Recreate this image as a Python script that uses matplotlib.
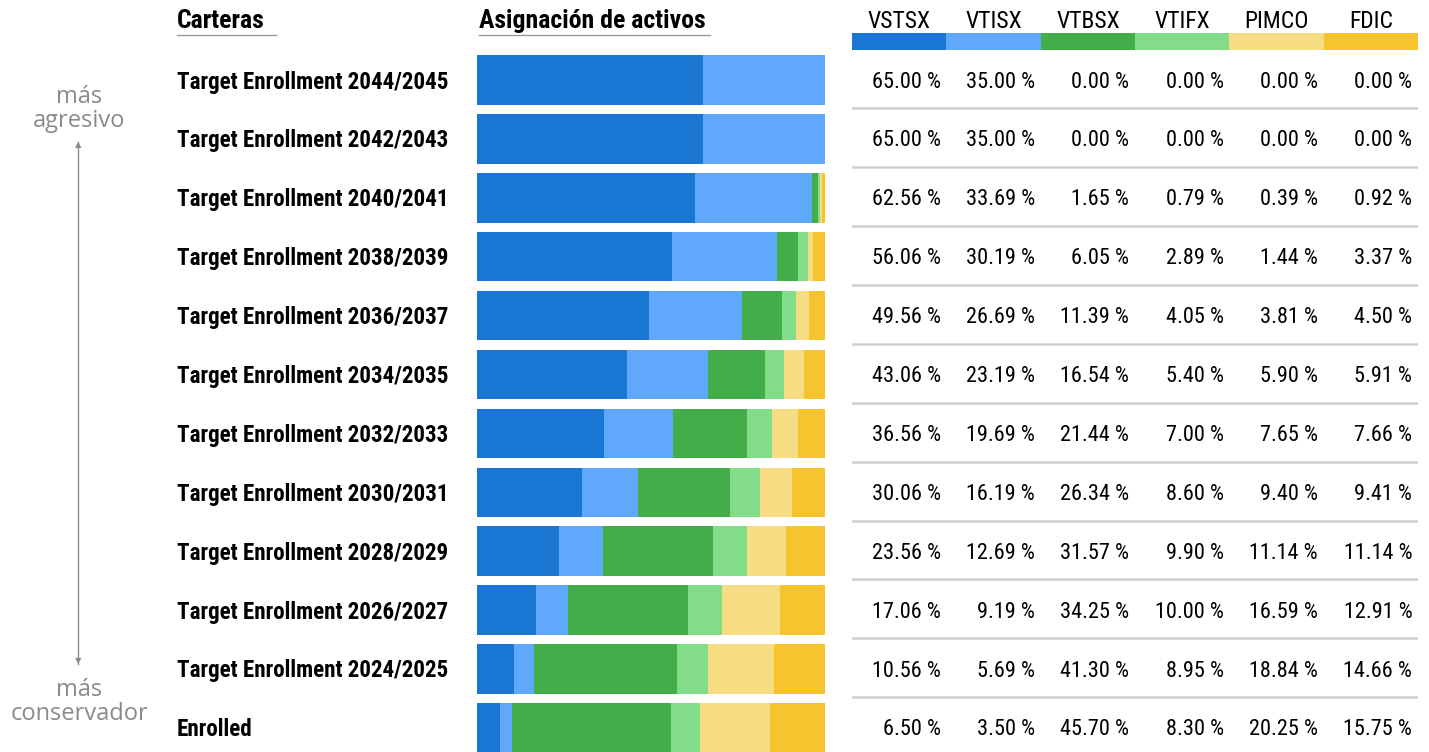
import matplotlib.pyplot as plt
from matplotlib import font_manager
import numpy as np

portfolios = ['Target Enrollment 2044/2045', 'Target Enrollment 2042/2043',
              'Target Enrollment 2040/2041', 'Target Enrollment 2038/2039',
              'Target Enrollment 2036/2037', 'Target Enrollment 2034/2035',
              'Target Enrollment 2032/2033', 'Target Enrollment 2030/2031',
              'Target Enrollment 2028/2029', 'Target Enrollment 2026/2027',
              'Target Enrollment 2024/2025', 'Enrolled']
funds = ['VSTSX', 'VTISX', 'VTBSX', 'VTIFX', 'PIMCO', 'FDIC']
vstsx = [65.00, 65.00, 62.56, 56.06, 49.56, 43.06, 36.56, 30.06, 23.56, 17.06, 10.56, 6.50]
vtisx = [35.00, 35.00, 33.69, 30.19, 26.69, 23.19, 19.69, 16.19, 12.69, 9.19, 5.69, 3.50]
vtbsx = [0.00, 0.00, 1.65, 6.05, 11.39, 16.54, 21.44, 26.34, 31.57, 34.25, 41.30, 45.70]
vtifx = [0.00, 0.00, 0.79, 2.89, 4.05, 5.40, 7.00, 8.60, 9.90, 10.00, 8.95, 8.30]
pimco = [0.00, 0.00, 0.39, 1.44, 3.81, 5.90, 7.65, 9.40, 11.14, 16.59, 18.84, 20.25]
fdic = [0.00, 0.00, 0.92, 3.37, 4.50, 5.91, 7.66, 9.41, 11.14, 12.91, 14.66, 15.75]
colors = ['#1976d2', '#60a8fc', '#43ad4a', '#82dc88', '#f6dc83', '#f6c42e']

W, H = 1429, 752

# pick a narrow sans similar to Arial Narrow
installed = {f.name for f in font_manager.fontManager.ttflist}
narrow = next((n for n in ['Liberation Sans Narrow', 'Arial Narrow', 'Roboto Condensed',
                           'PT Sans Narrow', 'Archivo Narrow', 'Pragati Narrow']
               if n in installed), 'DejaVu Sans')
plt.rcParams['font.family'] = [narrow, 'DejaVu Sans']

fig = plt.figure(figsize=(W / 100, H / 100), dpi=100)

# row i sits at pixel y = 80 + 58.9 * i
row_px = 58.9
y_top = -80 / row_px
y_bot = (H - 80) / row_px
txt_dy = 0.035  # nudge text down a couple of pixels


def px_axes(x0, x1):
    return fig.add_axes([x0 / W, 0, (x1 - x0) / W, 1])


data = np.array([vstsx, vtisx, vtbsx, vtifx, pimco, fdic])
rows = np.arange(len(portfolios))

# stacked bars
ax = px_axes(477, 825)
left = np.zeros(len(portfolios))
for vals, c in zip(data, colors):
    ax.barh(rows, vals, left=left, height=0.84, color=c, linewidth=0)
    left += vals
ax.set_xlim(0, 100)
ax.set_ylim(y_bot, y_top)
ax.axis('off')

# table of values
tb = px_axes(852, 1418)
tb.set_xlim(0, 6)
tb.set_ylim(y_bot, y_top)
tb.axis('off')
for j, (name, c) in enumerate(zip(funds, colors)):
    tb.bar(j + 0.5, -0.29, bottom=-0.51, width=1.0, color=c, linewidth=0)
    tb.text(j + 0.5, -1.0, name, ha='center', va='center', fontsize=17)
    for i in rows:
        tb.text(j + 0.94, i + txt_dy, f'{data[j][i]:.2f} %', ha='right', va='center', fontsize=16)
for i in rows[:-1]:
    tb.axhline(i + 0.48, color='#d0d0d0', lw=1.8)

# labels on the left
for i, name in enumerate(portfolios):
    fig.text(177 / W, 1 - (82 + row_px * i) / H, name, ha='left', va='center',
             fontsize=16.6, fontweight='bold')

fig.text(177 / W, 1 - 21 / H, 'Carteras', ha='left', va='center', fontsize=18.5, fontweight='bold')
fig.text(479 / W, 1 - 21 / H, 'Asignación de activos', ha='left', va='center',
         fontsize=18.5, fontweight='bold')
fig.add_artist(plt.Line2D([177 / W, 276 / W], [1 - 35 / H] * 2, color='#999999', lw=1))
fig.add_artist(plt.Line2D([479 / W, 710 / W], [1 - 35 / H] * 2, color='#999999', lw=1))

# aggressive / conservative note
gray = '#8a8a8a'
fig.text(79 / W, 1 - 109 / H, 'más\nagresivo', ha='center', va='center', fontsize=17,
         color=gray, family=['Open Sans', 'DejaVu Sans'], linespacing=0.95)
fig.text(79 / W, 1 - 702 / H, 'más\nconservador', ha='center', va='center', fontsize=17,
         color=gray, family=['Open Sans', 'DejaVu Sans'], linespacing=0.95)
fig.add_artist(plt.Line2D([78 / W] * 2, [1 - 142 / H, 1 - 664 / H], color=gray, lw=1))
fig.text(78 / W, 1 - 145 / H, '▲', ha='center', va='center', fontsize=6, color=gray,
         family='DejaVu Sans')
fig.text(78 / W, 1 - 661 / H, '▼', ha='center', va='center', fontsize=6, color=gray,
         family='DejaVu Sans')

fig.savefig('out.png', dpi=100)
